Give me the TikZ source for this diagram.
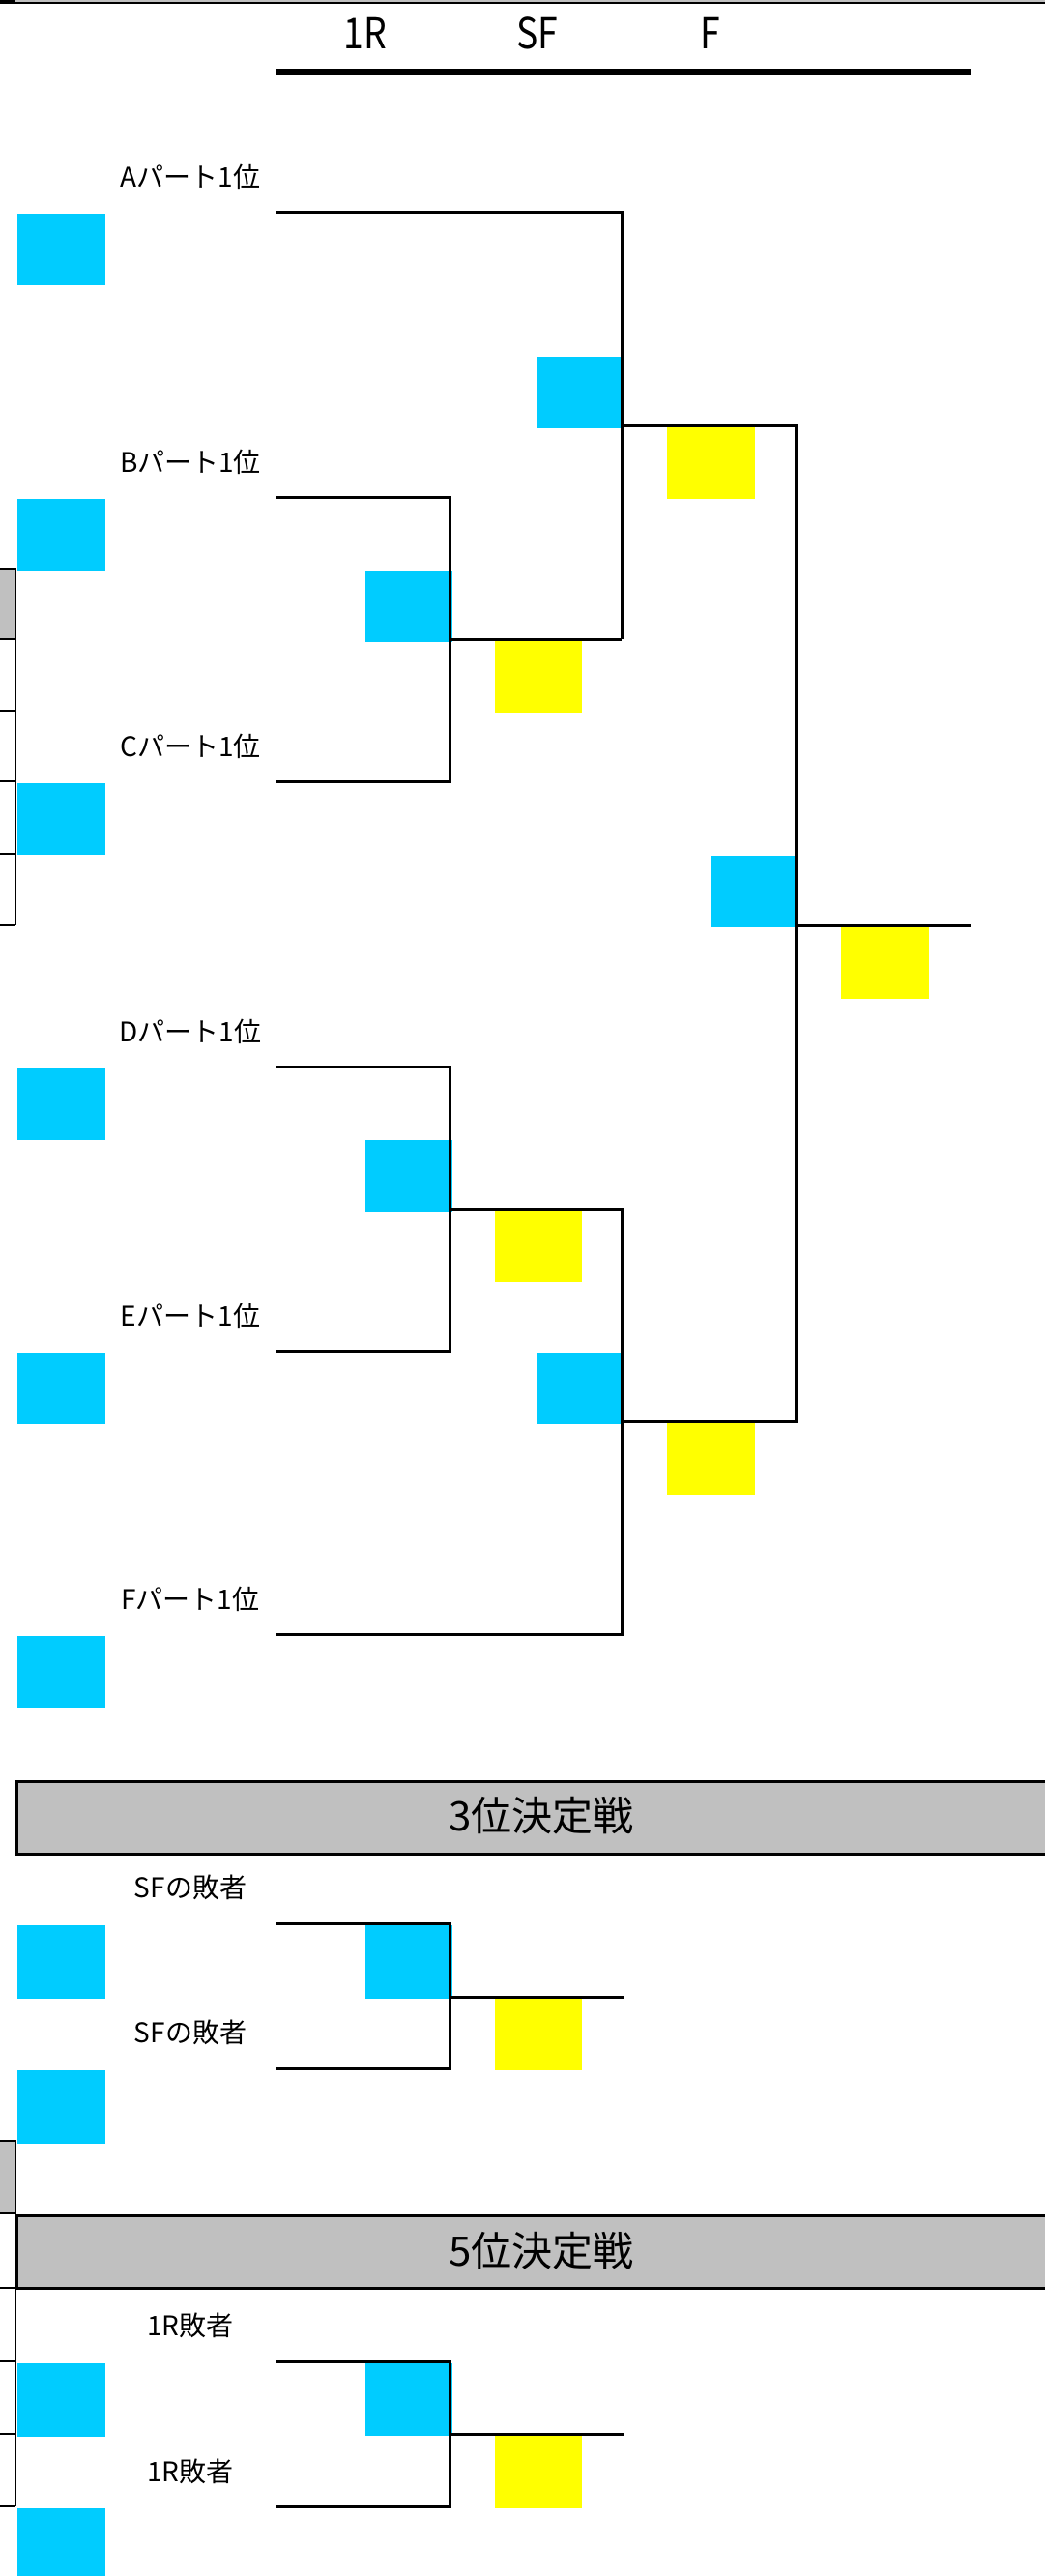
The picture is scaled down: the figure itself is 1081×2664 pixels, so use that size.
\documentclass[tikz,border=0pt]{standalone}
\usepackage{fontspec}
\setmainfont{Noto Sans CJK JP}
\newfontfamily\hdrfont[FakeStretch=0.85]{Noto Sans CJK JP}
\definecolor{cyanc}{HTML}{00CCFF}
\definecolor{yellowc}{HTML}{FFFF00}
\definecolor{grayc}{HTML}{C0C0C0}
\begin{document}
\begin{tikzpicture}[x=1pt,y=-1pt,line width=3pt,line join=miter,
  bluebox/.style={fill=cyanc,draw=none,inner sep=0pt,minimum width=90pt,minimum height=74pt,anchor=north west},
  leftbox/.style={bluebox,minimum width=91pt},
  yelbox/.style={fill=yellowc,draw=none,inner sep=0pt,minimum width=90pt,minimum height=74pt,anchor=north west},
  lbl/.style={inner sep=0pt,anchor=base,font=\fontsize{28}{32}\selectfont},
  hdr/.style={inner sep=0pt,anchor=base,font=\hdrfont\fontsize{44}{48}\selectfont},
  banner/.style={fill=grayc,draw=black,line width=3pt,inner sep=0pt,anchor=north west,minimum width=1088pt,minimum height=75pt},
  bantext/.style={inner sep=0pt,anchor=base,font=\fontsize{42}{46}\selectfont},
  brk/.style={line width=3pt}]
\useasboundingbox (0,0) rectangle (1081,2664);
\fill[white] (0,0) rectangle (1081,2664);

% top edge
\fill[grayc] (16,0) rectangle (1081,3);
\draw[line width=2pt] (0,3) -- (1081,3);
\fill[black] (0,0) rectangle (16,4);

% header
\node[hdr] (h1) at (378,50) {1R};
\node[hdr] (h2) at (556,50) {SF};
\node[hdr] (h3) at (735,50) {F};
\coordinate (hl) at (285,74.5);
\coordinate (hr) at (1004,74.5);
\draw[line width=7pt] (hl) -- (hr);

% left column fragments (top)
\fill[grayc] (0,588) rectangle (16,661);
\draw[line width=2.5pt] (0,588) -- (16,588) -- (16,957);
\foreach \yy in {661,735,808,883,957} \draw[line width=2.5pt] (0,\yy) -- (16,\yy);

% left column fragments (bottom)
\fill[grayc] (0,2214) rectangle (16,2289);
\draw[line width=2.5pt] (0,2214) -- (16,2214) -- (16,2592);
\foreach \yy in {2289,2366,2442,2517,2592} \draw[line width=2.5pt] (0,\yy) -- (16,\yy);

% banners
\node[banner] (b3) at (16,1841) {};
\node[bantext] (t3) at (560,1893) {3位決定戦};
\node[banner] (b5) at (16,2290) {};
\node[bantext] (t5) at (560,2343) {5位決定戦};

% left entry boxes
\node[leftbox] (la) at (16,219) {};
\node[leftbox] (lb) at (16,514) {};
\node[leftbox] (lc) at (16,808) {};
\node[leftbox] (ld) at (16,1103) {};
\node[leftbox] (le) at (16,1397) {};
\node[leftbox] (lf) at (16,1690) {};
\node[leftbox,minimum height=76pt] (l3a) at (16,1989) {};
\node[leftbox,minimum height=76pt] (l3b) at (16,2139) {};
\node[leftbox,minimum height=76pt] (l5a) at (16,2442) {};
\node[leftbox,minimum height=76pt] (l5b) at (16,2592) {};

% labels
\node[lbl] (ta) at (197,193) {Aパート1位};
\node[lbl] (tb) at (197,488) {Bパート1位};
\node[lbl] (tc) at (197,782) {Cパート1位};
\node[lbl] (td) at (197,1077) {Dパート1位};
\node[lbl] (te) at (197,1371) {Eパート1位};
\node[lbl] (tf) at (197,1664) {Fパート1位};
\node[lbl] (t3a) at (197,1962) {SFの敗者};
\node[lbl] (t3b) at (197,2112) {SFの敗者};
\node[lbl] (t5a) at (197,2415) {1R敗者};
\node[lbl] (t5b) at (197,2566) {1R敗者};

% result boxes
\node[bluebox] (r1) at (376,588) {};
\node[bluebox] (r2) at (376,1177) {};
\node[bluebox] (s1) at (554,367) {};
\node[bluebox] (s2) at (554,1397) {};
\node[bluebox,minimum width=91pt] (fw) at (733,883) {};
\node[bluebox,minimum height=76pt] (r3) at (376,1989) {};
\node[bluebox,minimum height=75pt] (r5) at (376,2442) {};
\node[yelbox] (y1) at (510,661) {};
\node[yelbox] (y2) at (510,1250) {};
\node[yelbox,minimum width=91pt] (ys1) at (688,440) {};
\node[yelbox,minimum width=91pt] (ys2) at (688,1470) {};
\node[yelbox,minimum width=91pt] (yf) at (868,957) {};
\node[yelbox] (y3) at (510,2065) {};
\node[yelbox,minimum height=75pt] (y5) at (510,2517) {};

% bracket coordinates
\coordinate (pa) at (285,219);
\coordinate (pb) at (285,514);
\coordinate (pc) at (285,808);
\coordinate (pd) at (285,1103);
\coordinate (pe) at (285,1397);
\coordinate (pf) at (285,1690);
\coordinate (ja) at (643,219);
\coordinate (jbc) at (465,661);
\coordinate (jbce) at (643,661);
\coordinate (jde) at (465,1250);
\coordinate (jdee) at (643,1250);
\coordinate (jf) at (643,1690);
\coordinate (su) at (643,440);
\coordinate (sue) at (823,440);
\coordinate (sl) at (643,1470);
\coordinate (sle) at (823,1470);
\coordinate (fm) at (823,957);
\coordinate (fe) at (1004,957);

% main bracket
\draw[brk] (pa) -- (ja) -- (jbce);
\draw[brk] (pb) -| (jbc) |- (pc);
\draw[brk] (jbc) -- (jbce);
\draw[brk] (su) -- (sue) -- (sle) -- (sl);
\draw[brk] (fm) -- (fe);
\draw[brk] (pd) -| (jde) |- (pe);
\draw[brk] (jde) -- (jdee) -- (jf) -- (pf);

% 3rd place bracket
\coordinate (q1) at (285,1989);
\coordinate (q2) at (285,2139);
\coordinate (qj) at (465,2065);
\coordinate (qe) at (645,2065);
\draw[brk] (q1) -| (qj) |- (q2);
\draw[brk] (qj) -- (qe);

% 5th place bracket
\coordinate (w1) at (285,2442);
\coordinate (w2) at (285,2592);
\coordinate (wj) at (465,2517);
\coordinate (we) at (645,2517);
\draw[brk] (w1) -| (wj) |- (w2);
\draw[brk] (wj) -- (we);
\end{tikzpicture}
\end{document}
